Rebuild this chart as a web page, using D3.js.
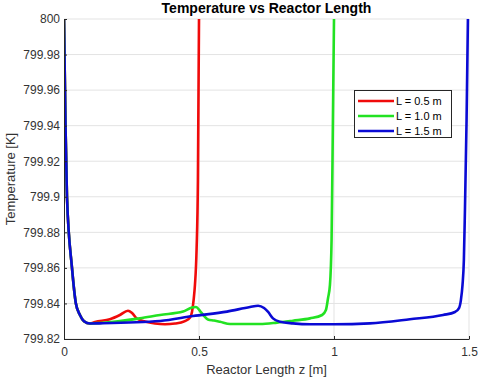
<!DOCTYPE html>
<html><head><meta charset="utf-8">
<script src="https://cdn.jsdelivr.net/npm/d3@7"></script>
<style>body{margin:0;background:#fff}svg{display:block;font-family:"Liberation Sans",Arial,sans-serif}</style>
</head><body><svg id="c" width="480" height="380"></svg>
<script>
const xTicks = [0, 0.5, 1, 1.5];
const xTickLabels = ["0", "0.5", "1", "1.5"];
const yTicks = [799.82, 799.84, 799.86, 799.88, 799.9, 799.92, 799.94, 799.96, 799.98, 800];
const yTickLabels = ["799.82","799.84","799.86","799.88","799.9","799.92","799.94","799.96","799.98","800"];
const seriesNames = ["L = 0.5 m", "L = 1.0 m", "L = 1.5 m"];
const seriesColors = ["#f00a0a", "#22e222", "#0a0ad4"];

const descentZ = [0, 0.0056, 0.011, 0.0296, 0.044, 0.059, 0.074, 0.096];
const descentT = [800, 799.94, 799.90, 799.86, 799.84, 799.8335, 799.830, 799.8287];

const redZ = [0.115,0.170,0.207,0.237,0.252,0.270,0.300,0.337,0.374,0.411,0.448,0.467,0.474,0.480,0.485,0.491,0.496,0.5];
const redT = [799.8296,799.8311,799.8335,799.8359,799.8346,799.8315,799.8298,799.8287,799.8283,799.8287,799.8301,799.8321,799.8352,799.8419,799.8504,799.8701,799.9094,800];

const greenZ = [0.133,0.281,0.356,0.441,0.474,0.489,0.504,0.519,0.533,0.556,0.578,0.615,0.726,0.789,0.848,0.911,0.956,0.970,0.978,0.985,0.991,0.996,1.0];
const greenT = [799.8290,799.8316,799.8335,799.8354,799.8377,799.8380,799.8357,799.8329,799.8310,799.8304,799.8297,799.8284,799.8284,799.8292,799.8303,799.8316,799.8335,799.8363,799.8431,799.8504,799.8757,799.9432,800];

const blueZ = [0.133,0.356,0.478,0.604,0.689,0.719,0.741,0.756,0.774,0.8,0.848,0.911,1.0,1.133,1.281,1.404,1.448,1.463,1.470,1.476,1.481,1.485,1.491,1.496];
const blueT = [799.8288,799.8301,799.8329,799.8354,799.8380,799.8387,799.8374,799.8352,799.8316,799.8297,799.8288,799.8283,799.8283,799.8288,799.8311,799.8335,799.8352,799.8374,799.8419,799.8504,799.8644,799.8926,799.9432,800];

const seriesZ = [descentZ.concat(redZ), descentZ.concat(greenZ), descentZ.concat(blueZ)];
const seriesT = [descentT.concat(redT), descentT.concat(greenT), descentT.concat(blueT)];

const svg = d3.select("#c");
const m = {l:64, r:469, t:19, b:339};
const x = d3.scaleLinear().domain([0,1.5]).range([m.l, m.r]);
const y = d3.scaleLinear().domain([799.82,800]).range([m.b, m.t]);
const axisCol = "#262626";
const textCol = "#333";

// grid
svg.append("g").selectAll("line.h").data(yTicks).join("line")
  .attr("x1", m.l).attr("x2", m.r).attr("y1", d=>y(d)).attr("y2", d=>y(d))
  .attr("stroke", "#e3e3e3").attr("stroke-width", 1);
svg.append("g").selectAll("line.v").data(xTicks.slice(1)).join("line")
  .attr("x1", d=>x(d)).attr("x2", d=>x(d)).attr("y1", m.t).attr("y2", m.b)
  .attr("stroke", "#e3e3e3").attr("stroke-width", 1);

// lines
svg.append("clipPath").attr("id","pc").append("rect")
  .attr("x", m.l).attr("y", m.t-1).attr("width", m.r-m.l+2).attr("height", m.b-m.t+1);
const line = d3.line().x(d=>x(d[0])).y(d=>y(d[1])).curve(d3.curveMonotoneX);
const lg = svg.append("g").attr("clip-path","url(#pc)");
seriesZ.forEach((zs,i)=>{
  const pts = zs.map((z,j)=>[z, seriesT[i][j]]);
  lg.append("path").datum(pts).attr("d", line).attr("fill","none")
    .attr("stroke", seriesColors[i]).attr("stroke-width", 2.6).attr("stroke-linejoin","round");
});

// axes
const xAxis = d3.axisBottom(x).tickValues(xTicks).tickFormat((d,i)=>xTickLabels[i]).tickSizeInner(-3).tickSizeOuter(0).tickPadding(8);
const gx = svg.append("g").attr("transform",`translate(0,${m.b})`).call(xAxis);
gx.select(".domain").attr("stroke", axisCol);
gx.selectAll(".tick line").attr("stroke", axisCol);
gx.selectAll("text").attr("fill", textCol).style("font-size","12px");

const yAxis = d3.axisLeft(y).tickValues(yTicks).tickFormat((d,i)=>yTickLabels[i]).tickSizeInner(-3).tickSizeOuter(0).tickPadding(4);
const gy = svg.append("g").attr("transform",`translate(${m.l},0)`).call(yAxis);
gy.select(".domain").attr("stroke", axisCol);
gy.selectAll(".tick line").attr("stroke", axisCol);
gy.selectAll("text").attr("fill", textCol).style("font-size","12px");

// labels
svg.append("text").attr("x", (m.l+m.r)/2).attr("y", 13).attr("text-anchor","middle")
  .style("font-size","14px").style("font-weight","bold").attr("fill","#000").text("Temperature vs Reactor Length");
svg.append("text").attr("x", (m.l+m.r)/2).attr("y", 374).attr("text-anchor","middle")
  .style("font-size","13px").attr("fill",textCol).text("Reactor Length z [m]");
svg.append("text").attr("transform",`translate(15,${(m.t+m.b)/2}) rotate(-90)`).attr("text-anchor","middle")
  .style("font-size","13px").attr("fill",textCol).text("Temperature [K]");

// legend
const leg = svg.append("g");
leg.append("rect").attr("x",354.5).attr("y",90.5).attr("width",97).attr("height",47)
  .attr("fill","#fff").attr("stroke","#262626").attr("stroke-width",1);
seriesNames.forEach((n,i)=>{
  const yy = 101 + i*15;
  leg.append("line").attr("x1",358).attr("x2",394).attr("y1",yy).attr("y2",yy)
    .attr("stroke",seriesColors[i]).attr("stroke-width",2.6);
  leg.append("text").attr("x",396).attr("y",yy+4).style("font-size","11px").attr("fill","#000").text(n);
});
</script></body></html>
